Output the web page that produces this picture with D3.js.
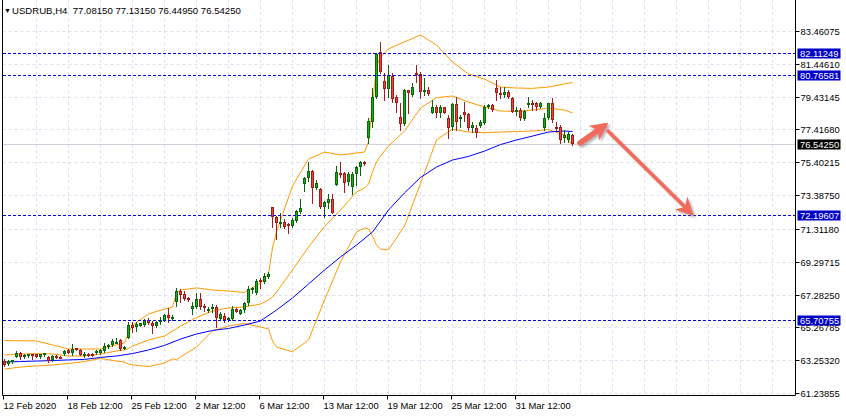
<!DOCTYPE html>
<html>
<head>
<meta charset="utf-8">
<script src="https://cdn.jsdelivr.net/npm/d3@7"></script>
<style>
body { margin: 0; background: #fff; }
svg { display: block; font-family: "Liberation Sans", Arial, sans-serif; }
</style>
</head>
<body>
<svg width="846" height="417"></svg>
<script>
// USDRUB H4 bars (bar 0 = 12 Feb 2020)
var opens = [63.22,63.00,63.14,63.47,63.69,63.47,63.51,63.63,63.62,63.45,
  63.59,63.45,63.27,63.53,63.47,63.62,63.86,63.67,63.98,63.88,
  63.57,63.65,63.65,63.73,63.69,63.83,64.04,64.17,64.33,64.49,
  63.96,64.64,65.41,65.26,65.37,65.41,65.72,65.55,65.33,65.68,
  65.66,66.03,65.86,66.84,67.50,67.30,67.07,66.41,66.49,66.99,
  66.60,66.29,66.38,66.50,65.80,65.97,65.72,65.80,66.40,66.11,
  66.31,66.74,67.62,67.36,68.18,68.07,68.34,72.64,72.02,71.69,
  71.75,71.61,71.49,71.81,72.37,74.05,74.45,74.87,73.84,73.74,
  72.68,72.88,73.15,74.03,74.76,74.72,74.19,73.90,74.66,75.13,
  75.42,76.87,77.89,79.43,82.15,80.39,79.92,80.70,79.43,78.16,
  77.75,79.82,79.51,80.90,80.80,79.73,79.84,78.45,78.80,78.45,
  78.78,78.12,77.57,78.98,78.12,78.49,78.35,77.51,77.49,77.63,
  77.79,78.81,78.92,79.94,79.64,79.53,79.73,79.33,78.51,78.61,
  78.04,78.96,79.06,79.06,78.81,77.49,78.10,79.02,77.59,77.55,
  76.87,76.77,77.0815];
var highs = [63.31,63.27,63.27,63.82,63.77,63.62,63.63,63.66,63.66,63.66,
  63.72,63.51,63.57,63.57,63.51,63.88,63.92,64.25,64.02,63.92,
  63.73,63.69,63.69,63.88,63.94,64.29,64.25,64.55,64.59,64.57,
  64.12,65.57,65.61,65.60,65.55,65.80,65.82,65.63,65.63,65.92,
  66.11,66.44,66.03,67.66,67.65,67.50,67.13,66.83,67.36,67.35,
  66.68,66.54,66.68,66.64,66.23,66.13,65.92,66.58,66.46,66.40,
  66.84,67.81,67.76,68.22,68.28,68.59,68.69,72.66,72.10,72.27,
  71.92,71.67,71.96,72.47,73.13,74.52,75.44,74.93,74.31,73.81,
  73.03,73.44,73.44,75.19,75.40,74.81,74.81,74.82,75.17,75.50,
  75.48,78.10,79.94,82.13,82.77,80.90,81.37,80.86,79.53,79.02,
  79.88,79.84,80.25,81.37,80.96,80.56,80.04,79.22,78.92,78.92,
  78.81,78.30,79.04,79.41,78.30,79.10,78.45,77.87,77.69,78.00,
  78.92,78.98,78.98,80.45,80.04,80.04,79.84,79.43,78.78,78.72,
  78.61,79.39,79.22,79.12,79.12,78.41,79.04,79.33,77.89,77.69,
  77.38,77.28,77.1315];
var lows = [62.90,62.96,63.11,63.43,63.35,63.37,63.45,63.35,63.45,63.37,
  63.54,63.14,63.20,63.39,63.39,63.57,63.67,63.57,63.86,63.57,
  63.43,63.54,63.51,63.63,63.66,63.77,64.00,64.12,64.29,63.90,
  63.92,64.61,65.00,65.06,65.33,65.38,65.49,64.94,65.29,65.47,
  65.63,65.61,65.72,66.60,66.84,66.95,66.89,66.06,66.44,66.38,
  66.27,66.24,66.19,65.31,65.72,65.61,65.66,65.72,66.19,66.07,
  66.23,66.64,67.36,67.33,67.66,67.97,68.30,71.45,70.67,71.45,
  71.35,71.08,71.41,71.75,72.27,73.66,74.27,72.92,73.79,72.58,
  72.06,72.58,72.27,73.99,74.52,73.60,74.01,73.44,74.01,74.62,
  75.24,76.57,77.59,79.33,80.91,79.22,79.43,79.12,78.51,77.38,
  77.72,78.41,79.47,80.35,79.33,79.53,79.53,78.41,78.16,78.16,
  78.40,76.89,77.38,77.38,77.57,77.94,77.38,77.26,76.95,77.57,
  77.75,78.73,78.55,79.22,79.33,79.43,79.33,78.46,78.30,78.00,
  78.00,78.81,78.61,78.61,78.73,77.38,78.06,77.89,77.38,76.57,
  76.67,76.67,76.4495];
var closes = [62.96,63.20,63.25,63.69,63.45,63.55,63.62,63.51,63.47,63.63,
  63.67,63.20,63.53,63.43,63.41,63.83,63.71,63.96,63.88,63.59,
  63.65,63.57,63.55,63.80,63.88,64.12,64.17,64.45,64.39,63.92,
  64.08,65.41,65.21,65.46,65.52,65.72,65.52,65.35,65.57,65.74,
  66.03,65.86,65.90,67.50,67.26,67.01,66.92,66.58,66.99,66.52,
  66.54,66.40,66.54,65.82,66.09,65.72,65.84,66.40,66.21,66.33,
  66.78,67.60,67.67,68.11,68.07,68.42,68.54,72.02,71.69,71.75,
  71.45,71.55,71.86,72.41,72.61,74.42,74.87,73.84,74.15,72.68,
  72.96,73.15,72.29,74.81,74.72,74.11,74.68,74.66,75.13,75.42,
  75.28,77.95,79.43,82.05,80.96,79.92,80.76,79.31,79.06,77.75,
  79.84,79.67,80.04,80.80,79.73,79.84,79.58,78.81,78.45,78.80,
  78.41,77.51,78.98,77.87,78.21,78.30,77.51,77.69,77.22,77.89,
  78.81,78.92,78.61,79.64,79.58,79.73,79.43,78.51,78.61,78.10,
  78.57,79.06,78.98,78.81,79.02,78.10,79.02,78.00,77.46,76.77,
  77.08,77.14,76.5425];

// Bollinger bands, read at these bar numbers
var bandIdx = [0,4,8,12,16,20,24,28,30,31,32,36,40,42,43,44,48,52,56,60,64,66,67,68,
  72,76,80,84,88,90,91,92,93,94,96,100,104,108,112,116,120,124,128,132,136,140,142];
var bbUpper = [64.45,64.45,64.43,64.19,63.94,63.94,63.94,64.19,64.31,64.92,65.41,66.09,
  66.39,66.52,67.38,67.56,67.69,67.56,67.50,67.41,67.99,68.54,70.14,71.12,
  73.95,75.60,76.03,75.85,75.97,76.03,76.65,78.92,81.31,81.86,82.36,82.79,
  83.22,82.60,81.56,80.82,80.51,80.02,79.96,79.94,80.02,80.21,80.30];
var bbMiddle = [63.57,63.63,63.66,63.63,63.51,63.51,63.63,63.82,63.88,63.97,64.12,64.49,
  64.74,65.05,65.17,65.35,65.87,66.27,66.46,66.52,66.70,66.95,67.13,67.44,
  68.79,70.20,71.46,72.47,73.58,73.82,74.07,74.81,75.42,75.79,76.40,77.32,
  78.73,79.37,79.47,79.10,78.80,78.55,78.52,78.61,78.73,78.61,78.43];
var bbLower = [62.71,62.83,62.90,62.96,63.05,63.17,63.36,63.20,63.14,63.02,62.96,62.86,
  63.08,63.33,63.27,63.45,64.06,65.05,65.35,65.51,65.29,65.17,64.43,64.06,
  63.77,64.49,66.95,69.28,71.12,71.37,71.31,70.88,70.32,70.08,70.02,71.49,
  74.10,76.77,77.44,77.26,77.22,77.26,77.29,77.32,77.41,77.08,76.46];

// blue moving average
var maIdx = [0,4,8,12,16,20,24,28,32,36,40,44,48,52,56,60,64,68,72,76,80,84,88,92,
  96,100,104,108,112,116,120,124,128,132,136,140,142];
var maValues = [63.14,63.17,63.20,63.23,63.27,63.30,63.42,63.51,63.66,63.88,64.16,64.55,
  64.86,65.08,65.20,65.41,65.66,66.33,67.07,67.93,68.79,69.59,70.32,71.12,
  72.47,73.52,74.47,75.11,75.54,75.76,76.09,76.49,76.77,77.01,77.26,77.32,77.29];

var tickPrices = [83.46075,81.44610,79.43145,77.41680,75.40215,73.38750,
  71.31180,69.29715,67.28250,65.26785,63.25320,61.23855];
var levelPrices = [82.11249,80.76581,72.19607,65.70755];
var lastPrice = 76.54250;
var timeIdx = [0,16,32,48,64,80,96,112,128];
var timeLabels = ["12 Feb 2020","18 Feb 12:00","25 Feb 12:00","2 Mar 12:00","6 Mar 12:00",
  "13 Mar 12:00","19 Mar 12:00","25 Mar 12:00","31 Mar 12:00"];
var title = "USDRUB,H4  77.08150 77.13150 76.44950 76.54250";

// hand drawn arrows: [bar from, bar to], [price from, price to]
var arrowBars = [[144,150],[151,171.5]];
var arrowPrices = [[76.59,77.63],[77.32,72.35]];

var svg = d3.select("svg"),
    plotLeft = 2.5,
    plotRight = 795.5,
    plotBottom = 395.5;

var x = d3.scaleLinear().domain([0, 197.875]).range([4, 795.5]),
    y = d3.scaleLinear().domain([61.23855, 83.46075]).range([393, 31]);

var px = function(v) { return Math.round(v) + 0.5; };

var defs = svg.append("defs");
defs.append("clipPath").attr("id", "plot")
  .append("rect").attr("x", 3).attr("y", 0).attr("width", 792).attr("height", 395);

var shadow = defs.append("filter").attr("id", "shadow")
  .attr("x", "-20%").attr("y", "-20%").attr("width", "140%").attr("height", "140%");
shadow.append("feDropShadow").attr("dx", 2).attr("dy", 2).attr("stdDeviation", 1.2)
  .attr("flood-color", "#777").attr("flood-opacity", 0.55);

defs.append("marker").attr("id", "head")
  .attr("markerUnits", "userSpaceOnUse")
  .attr("viewBox", "0 0 10 10").attr("refX", 7).attr("refY", 5)
  .attr("markerWidth", 18).attr("markerHeight", 18).attr("orient", "auto")
  .append("path").attr("d", "M0,0 L10,5 L0,10 L3,5 Z").attr("fill", "#f26a5c");

var g = svg.append("g").attr("clip-path", "url(#plot)");

// grid
g.selectAll(".vgrid").data(d3.range(8, 198, 8)).enter().append("line")
  .attr("x1", function(d) { return px(x(d)); }).attr("x2", function(d) { return px(x(d)); })
  .attr("y1", 0).attr("y2", plotBottom)
  .attr("stroke", "#dedeee").attr("stroke-dasharray", "3,3");
g.selectAll(".hgrid").data(tickPrices).enter().append("line")
  .attr("x1", plotLeft).attr("x2", plotRight)
  .attr("y1", function(d) { return px(y(d)); }).attr("y2", function(d) { return px(y(d)); })
  .attr("stroke", "#dedeee").attr("stroke-dasharray", "3,3");

// bid line
g.append("line")
  .attr("x1", plotLeft).attr("x2", plotRight)
  .attr("y1", px(y(lastPrice))).attr("y2", px(y(lastPrice)))
  .attr("stroke", "#d0d0dc");

// bands and moving average
function bandLine(values) {
  return d3.line()
    .x(function(d, i) { return x(bandIdx[i]) + 0.5; })
    .y(function(d) { return y(d); })(values);
}
[bbUpper, bbMiddle, bbLower].forEach(function(vals) {
  g.append("path").attr("d", bandLine(vals))
    .attr("fill", "none").attr("stroke", "#ff9a00").attr("stroke-width", 1);
});
g.append("path")
  .attr("d", d3.line()
    .x(function(d, i) { return x(maIdx[i]) + 0.5; })
    .y(function(d) { return y(d); })(maValues))
  .attr("fill", "none").attr("stroke", "#0000ff").attr("stroke-width", 1);

// candles
var bars = d3.range(opens.length);
var up = function(i) { return closes[i] >= opens[i]; };
g.selectAll(".wick").data(bars).enter().append("line")
  .attr("x1", function(i) { return x(i) + 0.5; }).attr("x2", function(i) { return x(i) + 0.5; })
  .attr("y1", function(i) { return Math.round(y(highs[i])); })
  .attr("y2", function(i) { return Math.round(y(lows[i])) + 1; })
  .attr("stroke", function(i) { return up(i) ? "#0a640a" : "#a01c1c"; });
g.selectAll(".body").data(bars).enter().append("rect")
  .attr("x", function(i) { return x(i) - 0.5; })
  .attr("width", 2)
  .attr("y", function(i) { return Math.round(y(Math.max(opens[i], closes[i]))) + 0.5; })
  .attr("height", function(i) {
    var t = Math.round(y(Math.max(opens[i], closes[i]))),
        b = Math.round(y(Math.min(opens[i], closes[i])));
    return Math.max(b - t - 1, 1);
  })
  .attr("fill", function(i) { return up(i) ? "#1fa81f" : "#e8473f"; })
  .attr("stroke", function(i) { return up(i) ? "#0a640a" : "#a01c1c"; })
  .attr("stroke-width", 1);

// horizontal levels, on top like terminal objects
g.selectAll(".level").data(levelPrices).enter().append("path")
  .attr("d", function(d) { return "M" + plotLeft + "," + px(y(d)) + "H" + plotRight; })
  .attr("fill", "none")
  .attr("stroke", "rgb(0,0,230)").attr("stroke-width", 1)
  .attr("stroke-dasharray", "3,2")
  .attr("shape-rendering", "crispEdges");

// arrows
var arrows = svg.append("g").attr("filter", "url(#shadow)");
arrows.selectAll("line").data(arrowBars).enter().append("line")
  .attr("x1", function(d) { return x(d[0]); })
  .attr("x2", function(d) { return x(d[1]); })
  .attr("y1", function(d, i) { return y(arrowPrices[i][0]); })
  .attr("y2", function(d, i) { return y(arrowPrices[i][1]); })
  .attr("stroke", "#f26a5c")
  .attr("stroke-width", function(d, i) { return i === 0 ? 5.5 : 3.5; })
  .attr("stroke-linecap", "round")
  .attr("marker-end", "url(#head)");

// frame
svg.append("path")
  .attr("d", "M" + plotLeft + ",0 V" + plotBottom + " H" + plotRight + " V0")
  .attr("fill", "none").attr("stroke", "#000");

// right price axis
var yAxis = svg.append("g")
  .attr("transform", "translate(" + plotRight + ",0)")
  .call(d3.axisRight(y).tickValues(tickPrices).tickSize(4).tickPadding(1)
    .tickFormat(d3.format(".5f")));
yAxis.select(".domain").remove();
yAxis.selectAll(".tick").attr("transform", function(d) { return "translate(0," + px(y(d)) + ")"; });
yAxis.selectAll("text").attr("font-size", "9.4px").attr("fill", "#000").attr("font-family", null);
yAxis.selectAll("line").attr("stroke", "#000");

// highlighted price boxes (drawn over the tick labels, as in the terminal)
var boxes = svg.selectAll(".box").data(levelPrices.concat([lastPrice])).enter().append("g")
  .attr("transform", function(d) { return "translate(797.5," + Math.round(y(d)) + ")"; });
boxes.append("rect")
  .attr("x", 0).attr("y", -4.5).attr("width", 43).attr("height", 10)
  .attr("fill", function(d) { return d === lastPrice ? "#000" : "#0000c8"; });
boxes.append("text")
  .attr("x", 2.5).attr("y", 4)
  .attr("font-size", "9.4px").attr("fill", "#fff")
  .text(function(d) { return d3.format(".5f")(d); });

// bottom time axis
var xAxis = svg.append("g")
  .attr("transform", "translate(0," + plotBottom + ")")
  .call(d3.axisBottom(x).tickValues(timeIdx).tickSize(4)
    .tickFormat(function(d, i) { return timeLabels[i]; }));
xAxis.select(".domain").remove();
xAxis.selectAll(".tick").attr("transform", function(d) { return "translate(" + (px(x(d)) - 1) + ",0)"; });
xAxis.selectAll("text").attr("text-anchor", "start").attr("x", 0)
  .attr("font-size", "9.4px").attr("fill", "#000").attr("font-family", null);
xAxis.selectAll("line").attr("stroke", "#000");

// title
svg.append("text").attr("x", 4).attr("y", 13).attr("font-size", "7px").text("\u25BC");
svg.append("text").attr("x", 12).attr("y", 13.5).attr("font-size", "9.6px")
  .style("white-space", "pre").text(title);
</script>
</body>
</html>
